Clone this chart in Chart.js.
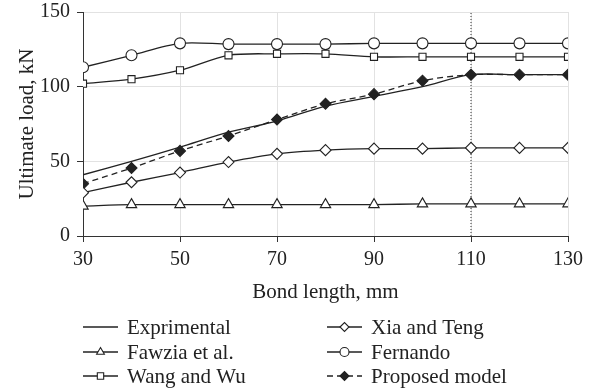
<!DOCTYPE html>
<html lang="en">
<head>
<meta charset="UTF-8">
<title>Ultimate load vs bond length</title>
<script src="https://cdn.jsdelivr.net/npm/chart.js"></script>
<style>
    html, body { margin: 0; padding: 0; background: #fff; }
    #wrap { width: 590px; height: 390px; }
</style>
</head>
<body>
<div id="wrap"><canvas id="loadChart" width="590" height="390"></canvas></div>
<script>
// bond length (mm) and ultimate load (kN) per model
const bondLength   = [30, 40, 50, 60, 70, 80, 90, 100, 110, 120, 130];
const experimental = [41, 50, 59.5, 69.5, 77, 87, 93.5, 100, 108, 108, 108];
const fawzia       = [20, 21, 21, 21, 21, 21, 21, 21.5, 21.5, 21.5, 21.5];
const wangWu       = [102, 105, 111, 121, 122, 122, 120, 120, 120, 120, 120];
const xiaTeng      = [29, 36, 42.5, 49.5, 55, 57.5, 58.5, 58.5, 59, 59, 59];
const fernando     = [113, 121, 129, 128.5, 128.5, 128.5, 129, 129, 129, 129, 129];
const proposed     = [35, 45.5, 57, 67, 78, 88.5, 95, 104, 108, 108, 108];
// marker line at the effective bond length
const effLength = [110, 110];
const effLoad   = [0, 150];

const xTicks = [30, 50, 70, 90, 110, 130];
const yTicks = [0, 50, 100, 150];

const ink = '#222';
const pts = ys => ys.map((y, i) => ({ x: bondLength[i], y: y }));

Chart.defaults.font.family = "'Liberation Serif', 'DejaVu Serif', serif";
Chart.defaults.font.size = 21;
Chart.defaults.color = ink;

function series(label, ys, style, extra) {
    return Object.assign({
        label: label,
        data: pts(ys),
        borderColor: ink,
        borderWidth: 1.3,
        backgroundColor: '#fff',
        pointBackgroundColor: '#fff',
        pointBorderColor: ink,
        pointBorderWidth: 1.1,
        pointStyle: style,
        pointRadius: 5,
        tension: 0.3
    }, extra || {});
}

const datasets = [
    series('Exprimental', experimental, false, { pointRadius: 0 }),
    series('Fawzia et al.', fawzia, 'triangle', { pointRadius: 6 }),
    series('Wang and Wu', wangWu, 'rect', { pointRadius: 5 }),
    series('Xia and Teng', xiaTeng, 'rectRot', { pointRadius: 5.5 }),
    series('Fernando', fernando, 'circle', { pointRadius: 5.5 }),
    series('Proposed model', proposed, 'rectRot', {
        pointRadius: 5.5, pointBackgroundColor: ink, borderDash: [6, 4]
    }),
    {
        label: '', data: effLength.map((x, i) => ({ x: x, y: effLoad[i] })),
        borderColor: '#333', borderWidth: 1, borderDash: [1, 2],
        pointRadius: 0, tension: 0, noLegend: true
    }
];

// legend in two columns under the axis title
const legendSlots = [
    [83, 327], [83, 352], [83, 376],
    [327, 327], [327, 352], [327, 376]
];
const bottomLegend = {
    id: 'bottomLegend',
    afterDraw(chart) {
        const ctx = chart.ctx;
        const items = chart.data.datasets.filter(d => !d.noLegend);
        ctx.save();
        items.forEach((d, i) => {
            const [x0, y] = legendSlots[i];
            ctx.strokeStyle = ink;
            ctx.lineWidth = 1.3;
            ctx.setLineDash(d.borderDash || []);
            ctx.beginPath();
            ctx.moveTo(x0, y);
            ctx.lineTo(x0 + 35, y);
            ctx.stroke();
            ctx.setLineDash([]);
            if (d.pointStyle) {
                ctx.fillStyle = d.pointBackgroundColor;
                ctx.strokeStyle = ink;
                ctx.lineWidth = 1.1;
                Chart.helpers.drawPoint(ctx, {
                    pointStyle: d.pointStyle, radius: 4.5, rotation: 0, borderWidth: 1.1
                }, x0 + 17.5, y);
            }
            ctx.fillStyle = ink;
            ctx.font = "21px 'Liberation Serif', serif";
            ctx.textBaseline = 'middle';
            ctx.fillText(d.label, x0 + 44, y + 1);
        });
        ctx.restore();
    }
};

new Chart(document.getElementById('loadChart'), {
    type: 'line',
    data: { datasets: datasets },
    plugins: [bottomLegend],
    options: {
        responsive: false,
        animation: false,
        layout: { padding: { top: 12, right: 22, bottom: 85, left: 0 } },
        plugins: { legend: { display: false }, tooltip: { enabled: false } },
        scales: {
            x: {
                type: 'linear', min: 30, max: 130,
                afterBuildTicks: s => { s.ticks = xTicks.map(v => ({ value: v })); },
                afterFit: s => { s.height = 69; },
                grid: { color: '#e2e2e2', tickColor: '#333', tickLength: 6, lineWidth: 1 },
                border: { color: '#333', width: 1 },
                ticks: { padding: 6, font: { size: 20 } },
                title: { display: true, text: 'Bond length, mm', padding: { top: 0, bottom: 0 } }
            },
            y: {
                min: 0, max: 150,
                afterBuildTicks: s => { s.ticks = yTicks.map(v => ({ value: v })); },
                afterFit: s => { s.width = 83; s.paddingTop = 0; s.paddingBottom = 0; },
                grid: { color: '#e2e2e2', tickColor: '#333', tickLength: 6, lineWidth: 1 },
                border: { color: '#333', width: 1 },
                ticks: { padding: 7, font: { size: 20 } },
                title: { display: true, text: 'Ultimate load, kN', padding: { top: 15, bottom: 0 } }
            }
        }
    }
});
</script>
</body>
</html>
